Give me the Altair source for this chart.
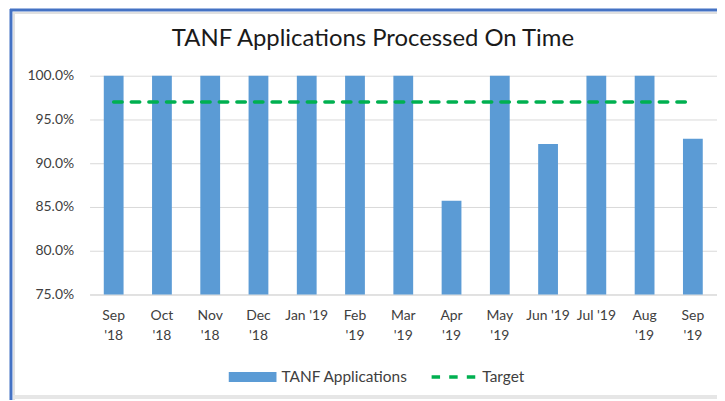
import altair as alt
import pandas as pd

months = ["Sep\n'18", "Oct\n'18", "Nov\n'18", "Dec\n'18", "Jan '19", "Feb\n'19", "Mar\n'19",
          "Apr\n'19", "May\n'19", "Jun '19", "Jul '19", "Aug\n'19", "Sep\n'19"]
applications = [1.0, 1.0, 1.0, 1.0, 1.0, 1.0, 1.0, 0.857, 1.0, 0.922, 1.0, 1.0, 0.928]
target = [0.97] * 13
y_ticks = [0.75, 0.80, 0.85, 0.90, 0.95, 1.00]
title_text = "TANF Applications Processed On Time"

df = pd.DataFrame({"month": months, "value": applications, "target": target,
                   "s1": "TANF Applications", "s2": "Target"})

FONT = "Lato"
BLUE = "#5B9BD5"
GREEN = "#00B050"

x = alt.X("month:N", sort=months, title=None,
          scale=alt.Scale(paddingInner=0.59, paddingOuter=0.295),
          axis=alt.Axis(labelExpr="split(datum.label, '\\n')", labelAngle=0,
                        labelFontSize=14, labelColor="#404040", labelFont=FONT,
                        labelPadding=14, labelLineHeight=20, labelBaseline="top",
                        ticks=False, domainColor="#D9D9D9", domainWidth=1, grid=False))

yscale = alt.Scale(domain=[0.75, 1.0], clamp=True)

bars = alt.Chart(df).mark_bar().encode(
    x=x,
    y=alt.Y("value:Q", scale=yscale, title=None,
            axis=alt.Axis(values=y_ticks, format=".1%", labelFontSize=14, labelFont=FONT,
                          labelColor="#404040", labelPadding=16, ticks=False, domain=False,
                          gridColor="#D9D9D9", gridWidth=1)),
    y2=alt.datum(0.75),
    fill=alt.Fill("s1:N", scale=alt.Scale(domain=["TANF Applications"], range=[BLUE]),
                  legend=alt.Legend(title=None, orient="none", legendX=140, legendY=279,
                                    symbolType="M-1,-0.21H1V0.21H-1Z", symbolSize=2304,
                                    symbolStrokeWidth=0, labelFontSize=15.5, labelFont=FONT,
                                    labelColor="#404040", labelOffset=5)),
)

line = alt.Chart(df).mark_line(strokeWidth=3.5, strokeDash=[8.5, 9.2], strokeCap="round").encode(
    x=alt.X("month:N", sort=months),
    y=alt.Y("target:Q", scale=yscale),
    stroke=alt.Stroke("s2:N", scale=alt.Scale(domain=["Target"], range=[GREEN]),
                      legend=alt.Legend(title=None, orient="none", legendX=342, legendY=279,
                                        symbolType="stroke", symbolSize=1936,
                                        symbolStrokeWidth=3.5, symbolDash=[8.5, 9.2],
                                        labelFontSize=15.5, labelFont=FONT,
                                        labelColor="#404040", labelOffset=5)),
)

frame = pd.DataFrame({"k": [0]})
shade1 = alt.Chart(frame).mark_rule(color="#e0e0e0", strokeWidth=2).encode(
    x=alt.value(-76), y=alt.value(-64), y2=alt.value(326))
shade2 = alt.Chart(frame).mark_rule(color="#e0e0e0", strokeWidth=2).encode(
    x=alt.value(-77), x2=alt.value(640), y=alt.value(-63))
shade3 = alt.Chart(frame).mark_rule(color="#e6e6e6", strokeWidth=4).encode(
    x=alt.value(-77), x2=alt.value(640), y=alt.value(323))
left_border = alt.Chart(frame).mark_rule(color="#4472C4", strokeWidth=3).encode(
    x=alt.value(-79), y=alt.value(-67), y2=alt.value(326))
top_border = alt.Chart(frame).mark_rule(color="#4472C4", strokeWidth=3).encode(
    x=alt.value(-80), x2=alt.value(640), y=alt.value(-66))
title = alt.Chart(frame).mark_text(text=title_text, fontSize=24, font=FONT, color="#1a1a1a",
                                   align="center", baseline="middle").encode(
    x=alt.value(285), y=alt.value(-37))

chart = alt.layer(bars, line, shade1, shade2, shade3, left_border, top_border, title).properties(
    width=631, height=220,
    autosize=alt.AutoSizeParams(type="none"),
    padding={"left": 82, "top": 67, "right": 0, "bottom": 106},
).resolve_scale(fill="independent", stroke="independent").configure_view(stroke=None)

chart.save("out.html", embed_options={"renderer": "svg", "actions": False})
